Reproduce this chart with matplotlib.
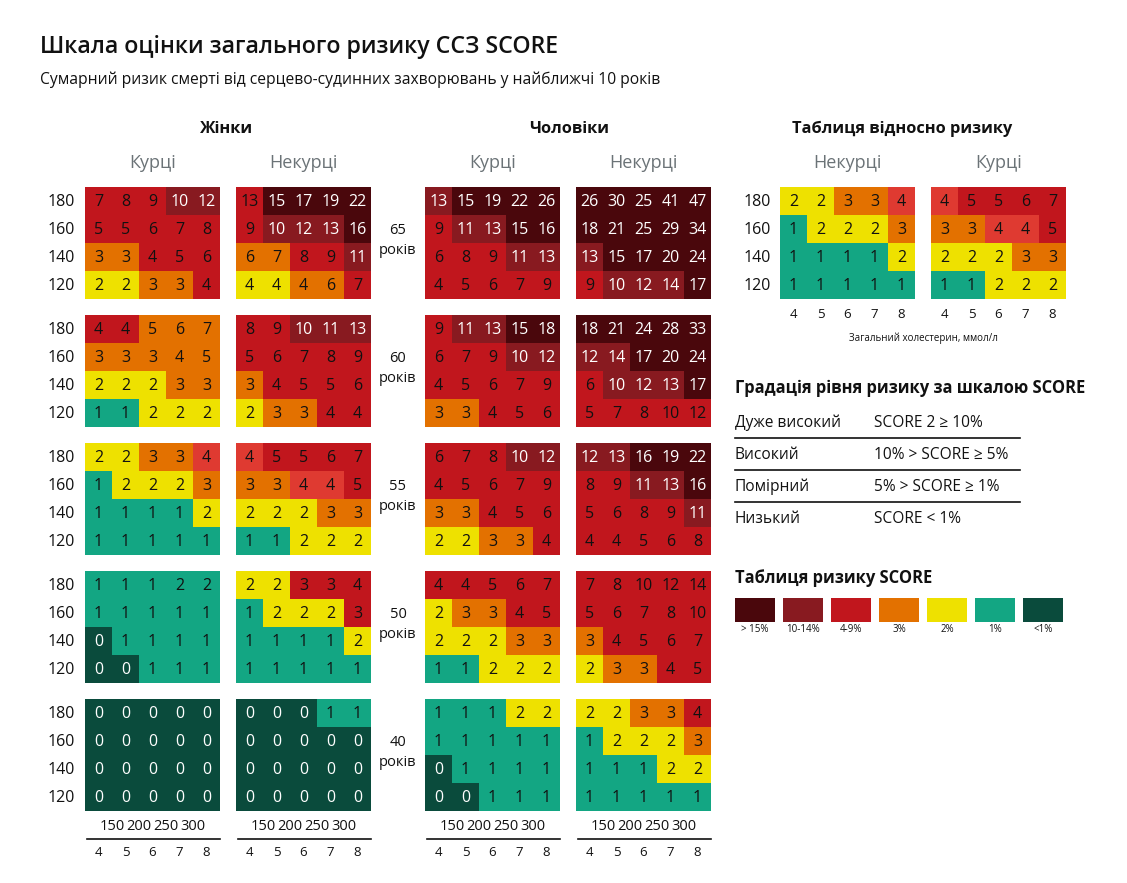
import numpy as np
import matplotlib
matplotlib.use('Agg')
import matplotlib.pyplot as plt
from matplotlib.colors import ListedColormap

# --- DATA ---
SBP = ['180', '160', '140', '120']
CHOL_MMOL = ['4', '5', '6', '7', '8']
CHOL_MG = ['150', '200', '250', '300']
AGES = ['65', '60', '55', '50', '40']

# values per age block (65, 60, 55, 50, 40), rows 180..120
W_SMOKE = [
    [[7, 8, 9, 10, 12], [5, 5, 6, 7, 8], [3, 3, 4, 5, 6], [2, 2, 3, 3, 4]],
    [[4, 4, 5, 6, 7], [3, 3, 3, 4, 5], [2, 2, 2, 3, 3], [1, 1, 2, 2, 2]],
    [[2, 2, 3, 3, 4], [1, 2, 2, 2, 3], [1, 1, 1, 1, 2], [1, 1, 1, 1, 1]],
    [[1, 1, 1, 2, 2], [1, 1, 1, 1, 1], [0, 1, 1, 1, 1], [0, 0, 1, 1, 1]],
    [[0, 0, 0, 0, 0], [0, 0, 0, 0, 0], [0, 0, 0, 0, 0], [0, 0, 0, 0, 0]],
]
W_SMOKE_C = [
    ['RRRMM', 'RRRRR', 'OORRR', 'YYOOR'],
    ['RROOO', 'OOOOO', 'YYYOO', 'TTYYY'],
    ['YYOOL', 'TYYYO', 'TTTTY', 'TTTTT'],
    ['TTTTT', 'TTTTT', 'DTTTT', 'DDTTT'],
    ['DDDDD', 'DDDDD', 'DDDDD', 'DDDDD'],
]
W_NON = [
    [[13, 15, 17, 19, 22], [9, 10, 12, 13, 16], [6, 7, 8, 9, 11], [4, 4, 4, 6, 7]],
    [[8, 9, 10, 11, 13], [5, 6, 7, 8, 9], [3, 4, 5, 5, 6], [2, 3, 3, 4, 4]],
    [[4, 5, 5, 6, 7], [3, 3, 4, 4, 5], [2, 2, 2, 3, 3], [1, 1, 2, 2, 2]],
    [[2, 2, 3, 3, 4], [1, 2, 2, 2, 3], [1, 1, 1, 1, 2], [1, 1, 1, 1, 1]],
    [[0, 0, 0, 1, 1], [0, 0, 0, 0, 0], [0, 0, 0, 0, 0], [0, 0, 0, 0, 0]],
]
W_NON_C = [
    ['RXXXX', 'RMMMX', 'OORRM', 'YYOOR'],
    ['RRMMM', 'RRRRR', 'ORRRR', 'YOORR'],
    ['LRRRR', 'OOLLR', 'YYYOO', 'TTYYY'],
    ['YYRRR', 'TYYYR', 'TTTTY', 'TTTTT'],
    ['DDDTT', 'DDDDD', 'DDDDD', 'DDDDD'],
]
M_SMOKE = [
    [[13, 15, 19, 22, 26], [9, 11, 13, 15, 16], [6, 8, 9, 11, 13], [4, 5, 6, 7, 9]],
    [[9, 11, 13, 15, 18], [6, 7, 9, 10, 12], [4, 5, 6, 7, 9], [3, 3, 4, 5, 6]],
    [[6, 7, 8, 10, 12], [4, 5, 6, 7, 9], [3, 3, 4, 5, 6], [2, 2, 3, 3, 4]],
    [[4, 4, 5, 6, 7], [2, 3, 3, 4, 5], [2, 2, 2, 3, 3], [1, 1, 2, 2, 2]],
    [[1, 1, 1, 2, 2], [1, 1, 1, 1, 1], [0, 1, 1, 1, 1], [0, 0, 1, 1, 1]],
]
M_SMOKE_C = [
    ['MXXXX', 'RMMXX', 'RRRMM', 'RRRRR'],
    ['RMMXX', 'RRRMM', 'RRRRR', 'OORRR'],
    ['RRRMM', 'RRRRR', 'OORRR', 'YYOOR'],
    ['RRRRR', 'YOORR', 'YYYOO', 'TTYYY'],
    ['TTTYY', 'TTTTT', 'DTTTT', 'DDTTT'],
]
M_NON = [
    [[26, 30, 25, 41, 47], [18, 21, 25, 29, 34], [13, 15, 17, 20, 24], [9, 10, 12, 14, 17]],
    [[18, 21, 24, 28, 33], [12, 14, 17, 20, 24], [6, 10, 12, 13, 17], [5, 7, 8, 10, 12]],
    [[12, 13, 16, 19, 22], [8, 9, 11, 13, 16], [5, 6, 8, 9, 11], [4, 4, 5, 6, 8]],
    [[7, 8, 10, 12, 14], [5, 6, 7, 8, 10], [3, 4, 5, 6, 7], [2, 3, 3, 4, 5]],
    [[2, 2, 3, 3, 4], [1, 2, 2, 2, 3], [1, 1, 1, 2, 2], [1, 1, 1, 1, 1]],
]
M_NON_C = [
    ['XXXXX', 'XXXXX', 'MXXXX', 'RMMMX'],
    ['XXXXX', 'MMXXX', 'RMMMX', 'RRRRR'],
    ['MMXXX', 'RRMMX', 'RRRRM', 'RRRRR'],
    ['RRRRR', 'RRRRR', 'ORRRR', 'YOORR'],
    ['YYOOR', 'TYYYO', 'TTTYY', 'TTTTT'],
]

REL_NON = [[2, 2, 3, 3, 4], [1, 2, 2, 2, 3], [1, 1, 1, 1, 2], [1, 1, 1, 1, 1]]
REL_NON_C = ['YYOOL', 'TYYYO', 'TTTTY', 'TTTTT']
REL_SMOKE = [[4, 5, 5, 6, 7], [3, 3, 4, 4, 5], [2, 2, 2, 3, 3], [1, 1, 2, 2, 2]]
REL_SMOKE_C = ['LRRRR', 'OOLLR', 'YYYOO', 'TTYYY']

GRAD_LABELS = ['Дуже високий', 'Високий', 'Помірний', 'Низький']
GRAD_RANGES = ['SCORE 2 ≥ 10%', '10% > SCORE ≥ 5%', '5% > SCORE ≥ 1%', 'SCORE < 1%']

LEG_CODES = ['X', 'M', 'R', 'O', 'Y', 'T', 'D']
LEG_LABELS = ['> 15%', '10-14%', '4-9%', '3%', '2%', '1%', '<1%']

# --- STYLE ---
PAL = {'X': '#4a070c', 'M': '#881a20', 'R': '#c1161d', 'L': '#df3a31',
       'O': '#e37100', 'Y': '#eee100', 'T': '#13a683', 'D': '#0a4b3c'}
CODES = list(PAL.keys())
CMAP = ListedColormap([PAL[c] for c in CODES])
LIGHT_TXT = {'X', 'M', 'D'}
GREY = '#6b7377'
INK = '#111111'
FONT = ['Open Sans', 'DejaVu Sans']

W, H = 1127, 883
fig = plt.figure(figsize=(W / 100, H / 100), dpi=100)
fig.patch.set_facecolor('white')
bg = fig.add_axes([0, 0, 1, 1])
bg.set_xlim(0, W); bg.set_ylim(H, 0); bg.axis('off')

CW, CH = 27, 28
PW, PH = 5 * CW, 4 * CH


def txt(x, y, s, size, ha='center', color=INK, weight='normal'):
    bg.text(x, y, s, ha=ha, va='center', fontsize=size, family=FONT, color=color, fontweight=weight)


def panel(x0, y0, vals, cols):
    ax = fig.add_axes([x0 / W, 1 - (y0 + PH) / H, PW / W, PH / H])
    idx = np.array([[CODES.index(c) for c in row] for row in cols])
    ax.pcolormesh(idx, cmap=CMAP, vmin=-0.5, vmax=len(CODES) - 0.5)
    ax.set_xlim(0, 5); ax.set_ylim(4, 0); ax.axis('off')
    for r, row in enumerate(vals):
        for c, v in enumerate(row):
            ax.text(c + 0.5, r + 0.52, str(v), ha='center', va='center', fontsize=11.5,
                    family=FONT, color='white' if cols[r][c] in LIGHT_TXT else INK)


def row_labels(x, y0):
    for r, s in enumerate(SBP):
        txt(x, y0 + CH * (r + 0.5) + 0.5, s, 11.5, ha='right')


LEFTS = [85, 236, 425, 576]
TOPS = [187, 315, 443, 571, 699]
groups = [(W_SMOKE, W_SMOKE_C), (W_NON, W_NON_C), (M_SMOKE, M_SMOKE_C), (M_NON, M_NON_C)]

for a, top in enumerate(TOPS):
    for g, (vals, cols) in enumerate(groups):
        panel(LEFTS[g], top, vals[a], cols[a])
    row_labels(75, top)
    txt(398, top + 44, AGES[a], 10.5)
    txt(398, top + 63, 'років', 10.5)

# headers
txt(226, 129, 'Жінки', 11.8, weight='bold')
txt(569, 129, 'Чоловіки', 11.8, weight='bold')
for g, name in enumerate(['Курці', 'Некурці', 'Курці', 'Некурці']):
    txt(LEFTS[g] + PW / 2, 163, name, 13, color=GREY)

# bottom axes
for x0 in LEFTS:
    for k, s in enumerate(CHOL_MG):
        txt(x0 + CW * (k + 1), 827, s, 10.5)
    bg.plot([x0 + 2, x0 + PW], [839, 839], color=INK, lw=1.2)
    for k, s in enumerate(CHOL_MMOL):
        txt(x0 + CW * (k + 0.5), 852, s, 9.5)

# relative risk table
REL_LEFTS = [780, 931]
panel(REL_LEFTS[0], 187, REL_NON, REL_NON_C)
panel(REL_LEFTS[1], 187, REL_SMOKE, REL_SMOKE_C)
row_labels(771, 187)
txt(902, 129, 'Таблиця відносно ризику', 11.8, weight='bold')
for x0, name in zip(REL_LEFTS, ['Некурці', 'Курці']):
    txt(x0 + PW / 2, 163, name, 13, color=GREY)
    for k, s in enumerate(CHOL_MMOL):
        txt(x0 + CW * (k + 0.5), 314, s, 9.5)
txt(923, 338, 'Загальний холестерин, ммол/л', 7)

# gradation
txt(735, 388, 'Градація рівня ризику за шкалою SCORE', 11.9, ha='left', weight='bold')
for i, (lab, rng) in enumerate(zip(GRAD_LABELS, GRAD_RANGES)):
    y = 423 + 32 * i
    txt(735, y, lab, 11.2, ha='left')
    txt(874, y, rng, 11.2, ha='left')
    if i < 3:
        bg.plot([735, 1020], [y + 15, y + 15], color=INK, lw=1.2)

# legend
txt(735, 578, 'Таблиця ризику SCORE', 11.9, ha='left', weight='bold')
leg = fig.add_axes([735 / W, 1 - 622 / H, (48 * 6 + 40) / W, 24 / H])
leg.bar([48 * i + 20 for i in range(len(LEG_CODES))], [1] * len(LEG_CODES), width=40,
        color=[PAL[c] for c in LEG_CODES])
leg.set_xlim(0, 48 * 6 + 40); leg.set_ylim(0, 1); leg.axis('off')
for i, s in enumerate(LEG_LABELS):
    txt(735 + 48 * i + 20, 630, s, 7)

# title
txt(40, 47, 'Шкала оцінки загального ризику ССЗ SCORE', 16.7, ha='left', weight='semibold')
txt(40, 80, 'Сумарний ризик смерті від серцево-судинних захворювань у найближчі 10 років', 11.25, ha='left')

fig.savefig('out.png', dpi=100, facecolor='white')
